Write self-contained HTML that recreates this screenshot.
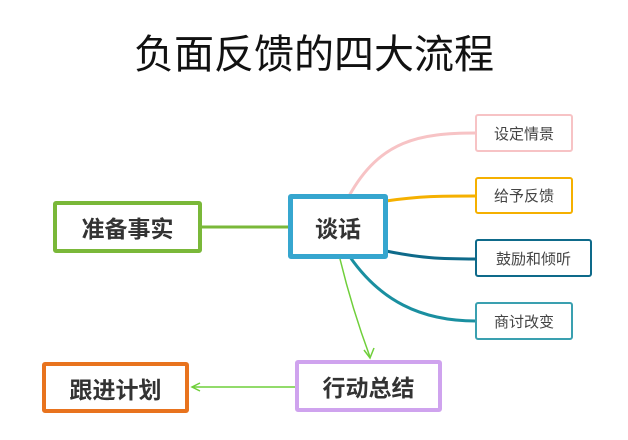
<!DOCTYPE html>
<html><head><meta charset="utf-8"><style>
body{margin:0;width:628px;height:440px;background:#fff;overflow:hidden;position:relative;font-family:"Liberation Sans","Noto Sans CJK SC",sans-serif}
.t{position:absolute;left:0;width:628px;top:22px;text-align:center;font-size:40px;color:#111}
.b{position:absolute;box-sizing:border-box;background:#fff;display:flex;align-items:center;justify-content:center;border-radius:3px}
.big{font-weight:bold;font-size:23px;color:#333;border-width:4px;border-style:solid}
.sm{font-size:15px;color:#444;border-width:2px;border-style:solid}
svg{position:absolute;left:0;top:0}
</style></head><body>
<div class="t">负面反馈的四大流程</div>
<svg width="628" height="440">
<path d="M201 227 H290" stroke="#7ab839" stroke-width="3" fill="none"/>
<path d="M349 196 C380 140 420 133 476 133" stroke="#f7c3c5" stroke-width="3" fill="none"/>
<path d="M386 201 C420 196 440 196 476 196" stroke="#f5b000" stroke-width="3" fill="none"/>
<path d="M386 251 C420 258 440 259 476 259" stroke="#0e6a8a" stroke-width="3" fill="none"/>
<path d="M350 257 C380 300 420 321 476 321" stroke="#1a8fa0" stroke-width="3" fill="none"/>
<path d="M340 259 C350 300 360 330 370 357" stroke="#6fcf3a" stroke-width="1.5" fill="none"/>
<path d="M364 350 L370 358 L374 348" stroke="#6fcf3a" stroke-width="1.5" fill="none"/>
<path d="M296 387 H192" stroke="#6fcf3a" stroke-width="1.5" fill="none"/>
<path d="M200 383 L192 387 L200 391" stroke="#6fcf3a" stroke-width="1.5" fill="none"/>
</svg>
<div class="b big" style="left:53px;top:201px;width:149px;height:52px;border-color:#7ab839">准备事实</div>
<div class="b big" style="left:288px;top:194px;width:100px;height:65px;border-color:#36a6cf;border-width:5px">谈话</div>
<div class="b big" style="left:295px;top:360px;width:147px;height:52px;border-color:#cfa3ee">行动总结</div>
<div class="b big" style="left:42px;top:362px;width:147px;height:51px;border-color:#e8731e">跟进计划</div>
<div class="b sm" style="left:475px;top:114px;width:98px;height:38px;border-color:#f7c3c5">设定情景</div>
<div class="b sm" style="left:475px;top:177px;width:98px;height:37px;border-color:#f5b000">给予反馈</div>
<div class="b sm" style="left:475px;top:239px;width:117px;height:38px;border-color:#0e6a8a">鼓励和倾听</div>
<div class="b sm" style="left:475px;top:302px;width:98px;height:38px;border-color:#3aa0b0">商讨改变</div>
</body></html>
